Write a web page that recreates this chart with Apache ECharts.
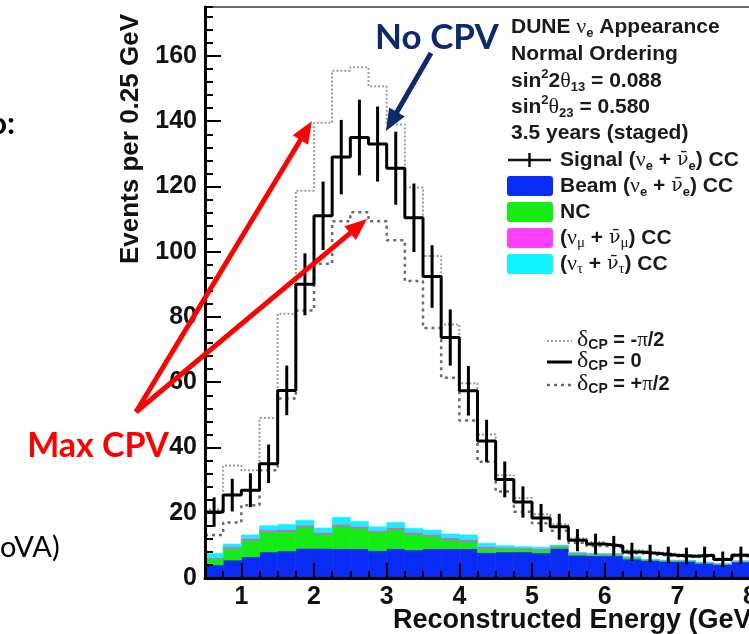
<!DOCTYPE html>
<html><head><meta charset="utf-8">
<script src="https://cdn.jsdelivr.net/npm/echarts@6/dist/echarts.min.js"></script>
<style>html,body{margin:0;padding:0;background:#fff}#c{width:749px;height:634px}</style>
</head><body><div id="c"></div>
<script>
// ---- data ----
const binEdges = [0.5,0.75,1.0,1.25,1.5,1.75,2.0,2.25,2.5,2.75,3.0,3.25,3.5,3.75,4.0,4.25,4.5,4.75,5.0,5.25,5.5,5.75,6.0,6.25,6.5,6.75,7.0,7.25,7.5,7.75,8.0];
const xTickLabels = [1,2,3,4,5,6,7,8];
const yTickLabels = [0,20,40,60,80,100,120,140,160];
// total spectrum, delta_CP = 0 (solid with error bars)
const totalCP0 = [20.2,25.4,26.9,35.0,57.5,90.0,111.0,129.0,135.0,133.0,125.6,110.4,92.4,73.7,57.4,42.0,30.2,23.3,18.4,15.7,11.6,10.4,9.8,8.0,7.5,7.0,6.7,7.0,5.7,7.0];
const errCP0   = [4.5,5.0,5.2,5.9,7.6,9.5,10.5,11.4,11.6,11.5,11.2,10.5,9.6,8.6,7.6,6.5,5.5,4.8,4.3,4.0,3.4,3.2,3.1,2.8,2.7,2.6,2.6,2.6,2.4,2.6];
// delta_CP = -pi/2 (dotted)
const totalCPminus = [21.0,34.5,33.0,49.0,81.0,118.7,139.5,155.5,156.5,150.7,139.0,119.7,98.7,77.7,59.7,44.0,31.5,24.5,19.5,16.5,12.2,11.0,10.2,8.5,7.9,7.4,7.0,7.3,6.0,7.3];
// delta_CP = +pi/2 (dashed)
const totalCPplus = [13.2,17.0,22.3,33.0,55.0,82.0,96.3,109.3,112.1,109.3,103.5,91.0,76.6,61.4,48.3,35.6,26.5,20.3,16.8,14.5,10.8,9.8,9.3,7.6,7.1,6.7,6.4,6.7,5.5,6.7];
// stacked backgrounds
const beamNueCC = [4.0,5.5,6.5,8.0,8.3,9.1,9.1,9.0,9.0,8.4,9.0,8.6,9.0,9.0,9.0,7.8,8.0,8.0,7.7,9.1,7.0,6.8,6.8,5.8,5.4,5.1,5.1,4.5,4.1,4.9];
const ncBkg     = [2.0,3.6,5.1,6.2,6.1,6.6,4.4,7.0,6.3,5.8,6.0,4.9,3.9,2.8,2.3,1.3,1.1,0.9,0.9,0.6,0.5,0.4,0.4,0.4,0.2,0.2,0.2,0.2,0.2,0.2];
const numuCC    = [0.3,0.4,0.5,0.5,0.5,0.5,0.5,0.5,0.5,0.4,0.5,0.5,0.5,0.5,0.5,0.5,0.3,0.3,0.3,0.2,0.2,0.2,0.2,0.2,0.1,0.1,0.1,0.1,0.1,0.1];
const nutauCC   = [1.2,0.9,1.1,1.3,1.5,1.4,1.3,2.1,1.5,1.1,1.5,1.2,1.3,1.2,1.4,1.0,0.5,0.4,0.5,0.2,0.1,0.1,0.1,0.1,0.0,0.0,0.0,0.0,0.0,0.0];

const FONT = '"Liberation Sans", Arial, Helvetica, sans-serif';
const GREEK = '"Liberation Serif", "DejaVu Serif", serif';
const GREEKBAR = '"DejaVu Serif", serif';
const ANNOT = 'Lato, "Open Sans", sans-serif';
const TXT = '#1a1a1a';

function stepData(vals) {
  const d = vals.map((v, i) => [binEdges[i], v]);
  d.push([binEdges[vals.length], vals[vals.length - 1]]);
  return d;
}
const layers = [
  {name: 'Beam', vals: beamNueCC, color: '#0a2af5'},
  {name: 'NC', vals: ncBkg, color: '#14ec14'},
  {name: 'numu', vals: numuCC, color: '#ff40ff'},
  {name: 'nutau', vals: nutauCC, color: '#12f2ff'}
];
const cum = binEdges.slice(0, -1).map(() => 0);
const layerSeries = layers.map(L => {
  const data = L.vals.map((v, i) => {
    const item = [binEdges[i], binEdges[i + 1], cum[i], cum[i] + v];
    cum[i] += v;
    return item;
  });
  return {
    type: 'custom', name: L.name, clip: true, z: 2,
    renderItem: (params, api) => {
      const p0 = api.coord([api.value(0), api.value(3)]);
      const p1 = api.coord([api.value(1), api.value(2)]);
      return {type: 'rect', shape: {x: p0[0], y: p0[1], width: p1[0] - p0[0], height: p1[1] - p0[1]},
        style: {fill: L.color, stroke: L.color, lineWidth: 0.6}};
    },
    data
  };
});
const errData = totalCP0.map((v, i) => [(binEdges[i] + binEdges[i + 1]) / 2, v - errCP0[i], v + errCP0[i]]);

const chart = echarts.init(document.getElementById('c'), null, {renderer: 'canvas'});
const labelStyle = {fontSize: 25, fontWeight: 'bold', fontFamily: FONT, color: '#111'};
chart.setOption({
  animation: false,
  backgroundColor: '#fff',
  grid: {left: 205, top: 7, width: 545, height: 571, show: true, borderColor: '#6a6a6a', borderWidth: 2,
    containLabel: false, outerBoundsMode: 'none'},
  xAxis: [
    {type: 'value', min: 0.5, max: 8, position: 'bottom', z: 10,
      axisLine: {show: true, onZero: false, lineStyle: {color: '#000', width: 3}},
      axisTick: {show: true, inside: true, length: 15, customValues: xTickLabels, lineStyle: {color: '#000', width: 2}},
      axisLabel: Object.assign({show: true, margin: 7, customValues: xTickLabels}, labelStyle),
      splitLine: {show: false}},
    {type: 'value', min: 0.5, max: 8, interval: 0.25, position: 'bottom', z: 10,
      axisLine: {show: false, onZero: false},
      axisTick: {show: true, inside: true, length: 7, lineStyle: {color: '#000', width: 2}},
      axisLabel: {show: false}, splitLine: {show: false}}
  ],
  yAxis: [
    {type: 'value', min: 0, max: 175, position: 'left', z: 10,
      axisLine: {show: true, onZero: false, lineStyle: {color: '#000', width: 3}},
      axisTick: {show: true, inside: true, length: 16, customValues: yTickLabels, lineStyle: {color: '#000', width: 2}},
      axisLabel: Object.assign({show: true, margin: 8, customValues: yTickLabels}, labelStyle),
      splitLine: {show: false}},
    {type: 'value', min: 0, max: 175, interval: 4, position: 'left', z: 10,
      axisLine: {show: false, onZero: false},
      axisTick: {show: true, inside: true, length: 8, lineStyle: {color: '#000', width: 2}},
      axisLabel: {show: false}, splitLine: {show: false}}
  ],
  series: layerSeries.concat([
    {type: 'line', name: 'dCP=-pi/2', step: 'end', data: stepData(totalCPminus), symbol: 'none', z: 3,
      lineStyle: {color: '#9a9a9a', width: 2, type: [2, 2]}},
    {type: 'line', name: 'dCP=+pi/2', step: 'end', data: stepData(totalCPplus), symbol: 'none', z: 3,
      lineStyle: {color: '#6a6a6a', width: 2.5, type: [3, 4]}},
    {type: 'line', name: 'dCP=0', step: 'end', data: stepData(totalCP0), symbol: 'none', z: 4,
      lineStyle: {color: '#000', width: 3}},
    {type: 'custom', name: 'errors', clip: true, z: 5, data: errData,
      renderItem: (params, api) => {
        const x = api.value(0);
        const lo = api.coord([x, api.value(1)]);
        const hi = api.coord([x, api.value(2)]);
        return {type: 'line', shape: {x1: lo[0], y1: lo[1], x2: hi[0], y2: hi[1]}, style: {stroke: '#000', lineWidth: 3}};
      }}
  ])
});

// ---- annotations & legend ----
const RICH = {
  b: {fontFamily: FONT, fontWeight: 'bold', fontSize: 21, lineHeight: 26, fill: TXT},
  g: {fontFamily: GREEK, fontWeight: 'normal', fontSize: 22, lineHeight: 26, fill: TXT},
  gb: {fontFamily: GREEKBAR, fontWeight: 'normal', fontSize: 19, lineHeight: 26, fill: TXT},
  sub: {fontFamily: FONT, fontWeight: 'bold', fontSize: 13, lineHeight: 16, verticalAlign: 'bottom', fill: TXT},
  gsub: {fontFamily: GREEK, fontWeight: 'normal', fontSize: 15, lineHeight: 16, verticalAlign: 'bottom', fill: TXT},
  sup: {fontFamily: FONT, fontWeight: 'bold', fontSize: 13, lineHeight: 18, verticalAlign: 'top', fill: TXT},
  d: {fontFamily: GREEK, fontWeight: 'normal', fontSize: 24, lineHeight: 24, fill: TXT},
  dsub: {fontFamily: FONT, fontWeight: 'bold', fontSize: 14, lineHeight: 14, verticalAlign: 'bottom', fill: TXT},
  e: {fontFamily: FONT, fontWeight: 'bold', fontSize: 20, lineHeight: 24, fill: TXT},
  eg: {fontFamily: GREEK, fontWeight: 'normal', fontSize: 21, lineHeight: 24, fill: TXT}
};
function txt(x, y, text, extra) {
  return Object.assign({type: 'text', x, y, z: 100, style: {text, rich: RICH, align: 'left', verticalAlign: 'middle', fill: TXT, font: 'bold 21px ' + FONT}}, extra || {});
}
function plain(x, y, text, font, fill, align, extra) {
  return Object.assign({type: 'text', x, y, z: 100, style: {text, font, fill, align: align || 'left', verticalAlign: 'middle'}}, extra || {});
}
function arrow(x1, y1, x2, y2, color, w, hl, hw) {
  const dx = x2 - x1, dy = y2 - y1, len = Math.hypot(dx, dy), ux = dx / len, uy = dy / len;
  const bx = x2 - ux * hl, by = y2 - uy * hl, px = -uy, py = ux;
  return [
    {type: 'line', z: 110, shape: {x1, y1, x2: bx + ux * 2, y2: by + uy * 2}, style: {stroke: color, lineWidth: w}},
    {type: 'polygon', z: 110, shape: {points: [[x2, y2], [bx + px * hw / 2, by + py * hw / 2], [bx - px * hw / 2, by - py * hw / 2]]}, style: {fill: color}}
  ];
}
const cv = (x, y) => chart.convertToPixel({xAxisIndex: 0, yAxisIndex: 0}, [x, y]);
const tipNo = cv(2.99, 137), tipMax1 = cv(1.97, 140), tipMax2 = cv(2.73, 110);

const legendX = 511, entryX = 560;
const NUBAR = 'ν\u0304';
const g = [];
g.push(txt(legendX, 27, '{b|DUNE }{g|ν}{sub|e}{b| Appearance}'));
g.push(txt(legendX, 54, '{b|Normal Ordering}'));
g.push(txt(legendX, 81, '{b|sin}{sup|2}{b|2}{g|θ}{sub|13}{b| = 0.088}'));
g.push(txt(legendX, 107, '{b|sin}{sup|2}{g|θ}{sub|23}{b| = 0.580}'));
g.push(txt(legendX, 133, '{b|3.5 years (staged)}'));
g.push(txt(entryX, 160, '{b|Signal (}{g|ν}{sub|e}{b| + }{gb|' + NUBAR + '}{sub|e}{b|) CC}'));
g.push(txt(entryX, 186, '{b|Beam (}{g|ν}{sub|e}{b| + }{gb|' + NUBAR + '}{sub|e}{b|) CC}'));
g.push(txt(entryX, 212, '{b|NC}'));
g.push(txt(entryX, 238, '{b|(}{g|ν}{gsub|μ}{b| + }{gb|' + NUBAR + '}{gsub|μ}{b|) CC}'));
g.push(txt(entryX, 264, '{b|(}{g|ν}{gsub|τ}{b| + }{gb|' + NUBAR + '}{gsub|τ}{b|) CC}'));
g.push({type: 'line', z: 100, shape: {x1: 508, y1: 160, x2: 551, y2: 160}, style: {stroke: '#111', lineWidth: 2.5}});
g.push({type: 'line', z: 100, shape: {x1: 529.5, y1: 153, x2: 529.5, y2: 167}, style: {stroke: '#111', lineWidth: 2.5}});
[[186, layers[0].color], [212, layers[1].color], [238, layers[2].color], [264, layers[3].color]].forEach(([y, c]) => {
  g.push({type: 'rect', z: 100, shape: {x: 507, y: y - 10, width: 46, height: 20, r: 3}, style: {fill: c}});
});
// delta_CP legend
g.push({type: 'line', z: 100, shape: {x1: 547, y1: 341, x2: 572, y2: 341}, style: {stroke: '#9a9a9a', lineWidth: 2, lineDash: [2, 2]}});
g.push({type: 'line', z: 100, shape: {x1: 547, y1: 362, x2: 572, y2: 362}, style: {stroke: '#000', lineWidth: 3}});
g.push({type: 'line', z: 100, shape: {x1: 547, y1: 385, x2: 572, y2: 385}, style: {stroke: '#6a6a6a', lineWidth: 2.5, lineDash: [3, 4]}});
g.push(txt(577, 340, '{d|δ}{dsub|CP}{e| = -}{eg|π}{e|/2}'));
g.push(txt(577, 361, '{d|δ}{dsub|CP}{e| = 0}'));
g.push(txt(577, 384, '{d|δ}{dsub|CP}{e| = +}{eg|π}{e|/2}'));
// axis titles
g.push(plain(131, 14, 'Events per 0.25 GeV', 'bold 26px ' + FONT, '#111', 'right', {rotation: Math.PI / 2}));
g.push(plain(393, 621, 'Reconstructed Energy (GeV)', 'bold 27px ' + FONT, '#111', 'left'));
// slide annotations
g.push(plain(437, 38, 'No CPV', 'bold 35px ' + ANNOT, '#0c2a6c', 'center'));
g.push(plain(98, 446, 'Max CPV', 'bold 34px ' + ANNOT, '#ff0000', 'center'));
g.push(plain(15, 124, 'o:', 'bold 31px ' + ANNOT, '#000', 'right'));
g.push(plain(0, 548, 'oVA)', '29px ' + ANNOT, '#000', 'left'));
arrow(431, 53, tipNo[0], tipNo[1], '#0c2a6c', 5, 22, 18).forEach(e => g.push(e));
arrow(136, 412, tipMax1[0], tipMax1[1], '#ff0000', 5, 22, 18).forEach(e => g.push(e));
arrow(136, 412, tipMax2[0], tipMax2[1], '#ff0000', 5, 22, 18).forEach(e => g.push(e));
chart.setOption({graphic: g});
</script>
</body></html>
